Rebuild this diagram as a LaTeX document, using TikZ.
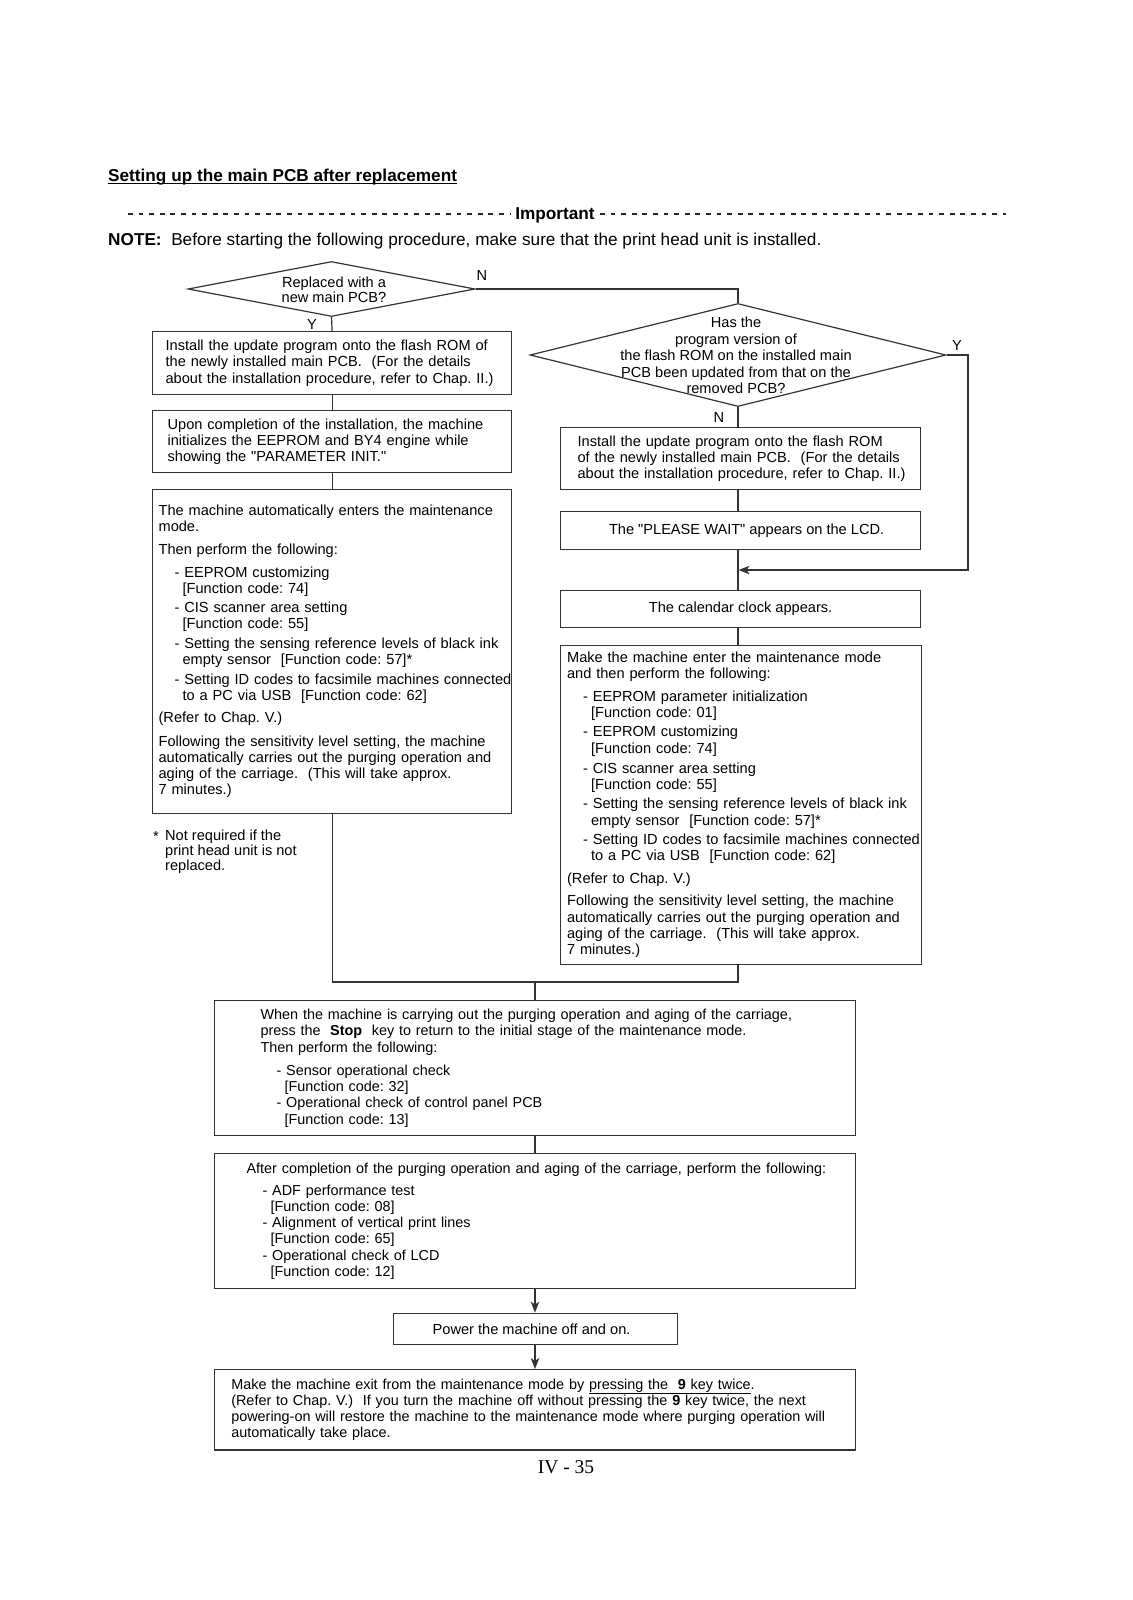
\documentclass[tikz,border=0pt]{standalone}
\usepackage{fontspec}
\setmainfont{Liberation Sans}
\newfontfamily\nomapfont{Liberation Sans}
\newfontfamily\pagenumfont{Liberation Serif}
\usetikzlibrary{shapes.geometric,arrows.meta}
\frenchspacing
\newcommand\boxpad[1]{\leftskip=#1\relax\rightskip=-60pt plus 1fil\relax\parindent=0pt\relax}
\newcommand\indA{\hspace*{16pt}}
\newcommand\indB{\hspace*{24pt}}
\newcommand\dq{{\nomapfont\symbol{34}}}
\begin{document}
\begin{tikzpicture}[x=1pt,y=-1pt,
  ln/.style={draw=black!80, line width=1.2pt},
  arr/.style={ln, -{Stealth[length=11pt,width=8.5pt,inset=3pt]}},
  dline/.style={draw=black!85, line width=1.6pt, dash pattern=on 4.8pt off 5.8pt},
  boxbase/.style={draw=black!80, line width=1.2pt, rectangle, anchor=north west, inner sep=0pt, font=\fontsize{14.6}{16.3}\selectfont},
  lbox/.style={boxbase, align=left},
  bbox/.style={lbox, font=\fontsize{14.4}{16.3}\selectfont},
  cbox/.style={boxbase, align=center},
  dia/.style={draw=black!80, line width=1.2pt, diamond, inner sep=0pt},
  dtext/.style={align=center, inner sep=0pt},
  lbl/.style={inner sep=0pt, font=\fontsize{14.6}{16}\selectfont},
  big/.style={inner sep=0pt, font=\fontsize{17.2}{20}\selectfont}]
\useasboundingbox[fill=white] (0,0) rectangle (1132,1600);

% heading
\node[big, anchor=base west, font=\fontsize{17.2}{20}\selectfont\bfseries] (title) at (108,181) {Setting up the main PCB after replacement};
\draw[line width=1.3pt] ([yshift=-2.6pt]title.base west) -- ([yshift=-2.6pt]title.base east);

\node[big, anchor=base, font=\fontsize{17.2}{20}\selectfont\bfseries] (imp) at (555,219.5) {Important};
\coordinate (dl1) at (128,214);
\coordinate (dl2) at (511,214);
\coordinate (dl3) at (600,214);
\coordinate (dl4) at (1006,214);
\draw[dline] (dl1) -- (dl2);
\draw[dline] (dl3) -- (dl4);

\node[big, anchor=base west] (note) at (108,245) {\textbf{NOTE:}\ \ Before starting the following procedure, make sure that the print head unit is installed.};

% diamonds
\node[dia, minimum width=287pt, minimum height=55pt] (d1) at (331.5,289) {};
\node[dtext, font=\fontsize{14.6}{14.5}\selectfont] (d1t) at (334,290) {Replaced with a\\new main PCB?};

\node[dia, minimum width=416pt, minimum height=103pt] (d2) at (738,355) {};
\node[dtext, font=\fontsize{14.6}{16.6}\selectfont] (d2t) at (736,355.5) {Has the\\program version of\\the flash ROM on the installed main\\PCB been updated from that on the\\removed PCB?};

\node[lbl] (n1) at (482,275) {N};
\node[lbl] (y1) at (312,324) {Y};
\node[lbl] (y2) at (957,345) {Y};
\node[lbl] (n2) at (719,417) {N};

% left column
\node[lbox, text width=359pt, minimum height=63pt] (L1) at (152,331) {\boxpad{13pt}Install the update program onto the flash ROM of\\the newly installed main PCB.\ \ (For the details\\about the installation procedure, refer to Chap. II.)\par\vskip-4pt};

\node[lbox, text width=359pt, minimum height=62pt] (L2) at (152,410) {\boxpad{15pt}Upon completion of the installation, the machine\\initializes the EEPROM and BY4 engine while\\showing the \dq PARAMETER INIT.\dq\par\vskip-4pt};

\node[lbox, text width=359pt, minimum height=323.5pt] (L3) at (152,489) {\boxpad{6pt}The machine automatically enters the maintenance\\mode.\\[7pt]
Then perform the following:\\[6pt]
\indA- EEPROM customizing\\
\indB[Function code: 74]\\[2.7pt]
\indA- CIS scanner area setting\\
\indB[Function code: 55]\\[3pt]
\indA- Setting the sensing reference levels of black ink\\
\indB empty sensor\ \ [Function code: 57]*\\[3.4pt]
\indA- Setting ID codes to facsimile machines connected\\
\indB to a PC via USB\ \ [Function code: 62]\\[6pt]
(Refer to Chap. V.)\\[7pt]
Following the sensitivity level setting, the machine\\
automatically carries out the purging operation and\\
aging of the carriage.\ \ (This will take approx.\\
7 minutes.)\par\vskip6.6pt};

\node[lbl, anchor=base west] (fnstar) at (153,841) {*};
\node[lbl, anchor=north west, align=left, font=\fontsize{14.6}{15.3}\selectfont] (fn) at (165,829.5) {Not required if the\\print head unit is not\\replaced.};

% right column
\node[lbox, text width=360pt, minimum height=62pt] (R1) at (560,427) {\boxpad{17pt}Install the update program onto the flash ROM\\of the newly installed main PCB.\ \ (For the details\\about the installation procedure, refer to Chap. II.)\par};

\node[cbox, minimum width=360pt, minimum height=38pt] (R2) at (560,511) {\hspace*{12pt}The \dq PLEASE WAIT\dq\ appears on the LCD.};

\node[cbox, minimum width=360pt, minimum height=37pt] (R3) at (560,590) {The calendar clock appears.};

\node[lbox, text width=361pt, minimum height=318.5pt] (R4) at (560,645) {\boxpad{6.5pt}Make the machine enter the maintenance mode\\
and then perform the following:\\[6pt]
\indA- EEPROM parameter initialization\\
\indB[Function code: 01]\\[3pt]
\indA- EEPROM customizing\\
\indB[Function code: 74]\\[4pt]
\indA- CIS scanner area setting\\
\indB[Function code: 55]\\[3pt]
\indA- Setting the sensing reference levels of black ink\\
\indB empty sensor\ \ [Function code: 57]*\\[3pt]
\indA- Setting ID codes to facsimile machines connected\\
\indB to a PC via USB\ \ [Function code: 62]\\[6.7pt]
(Refer to Chap. V.)\\[5.7pt]
Following the sensitivity level setting, the machine\\
automatically carries out the purging operation and\\
aging of the carriage.\ \ (This will take approx.\\
7 minutes.)\par};

% bottom
\node[bbox, text width=641pt, minimum height=135pt] (B1) at (214,1000) {\boxpad{46pt}When the machine is carrying out the purging operation and aging of the carriage,\\
press the\ \ \textbf{Stop}\ \ key to return to the initial stage of the maintenance mode.\\
Then perform the following:\\[6.7pt]
\indA- Sensor operational check\\
\indB[Function code: 32]\\
\indA- Operational check of control panel PCB\\
\indB[Function code: 13]\par};

\node[bbox, text width=641pt, minimum height=135pt] (B2) at (214,1153) {\boxpad{32pt}After completion of the purging operation and aging of the carriage, perform the following:\\[5.7pt]
\indA- ADF performance test\\
\indB[Function code: 08]\\
\indA- Alignment of vertical print lines\\
\indB[Function code: 65]\\
\indA- Operational check of LCD\\
\indB[Function code: 12]\par\vskip-4pt};

\node[cbox, minimum width=284pt, minimum height=31.4pt] (B3) at (393,1312.6) {Power the machine off and on.\hspace*{8pt}};

\node[bbox, text width=641pt, minimum height=80.4pt] (B4) at (214,1369) {\boxpad{16.7pt}Make the machine exit from the maintenance mode by \underline{pressing the\ \ \textbf{9} key twice}.\\
(Refer to Chap. V.)\ \ If you turn the machine off without pressing the \textbf{9} key twice, the next\\
powering-on will restore the machine to the maintenance mode where purging operation will\\
automatically take place.\par};

\node[inner sep=0pt, anchor=base, font=\pagenumfont\fontsize{19.5}{22}\selectfont] (pg) at (566,1473) {IV - 35};

% connectors
\draw[ln] (d1.south) -- (L1.north);
\draw[ln] (L1.south) -- (L2.north);
\draw[ln] (L2.south) -- (L3.north);
\draw[ln] (d1.east) -- (d1.east -| d2.north) -- (d2.north);
\draw[ln] (d2.south) -- (d2.south |- R1.north);
\draw[ln] (d2.south |- R1.south) -- (d2.south |- R2.north);
\draw[ln] (d2.south |- R2.south) -- (d2.south |- R3.north);
\draw[ln] (d2.south |- R3.south) -- (d2.south |- R4.north);
\coordinate (yc) at (968,570);
\coordinate (yj) at (738.6,570);
\draw[arr] (d2.east) -- (d2.east -| yc) -- (yc) -- (yj);
\coordinate (mrg) at (535,982);
\draw[ln] (L3.south) -- (L3.south |- mrg) -- (mrg -| d2.south) -- (d2.south |- R4.south);
\draw[ln] (mrg) -- (mrg |- B1.north);
\draw[ln] (mrg |- B1.south) -- (mrg |- B2.north);
\draw[arr] (mrg |- B2.south) -- (mrg |- B3.north);
\draw[arr] (mrg |- B3.south) -- (mrg |- B4.north);
\end{tikzpicture}
\end{document}
